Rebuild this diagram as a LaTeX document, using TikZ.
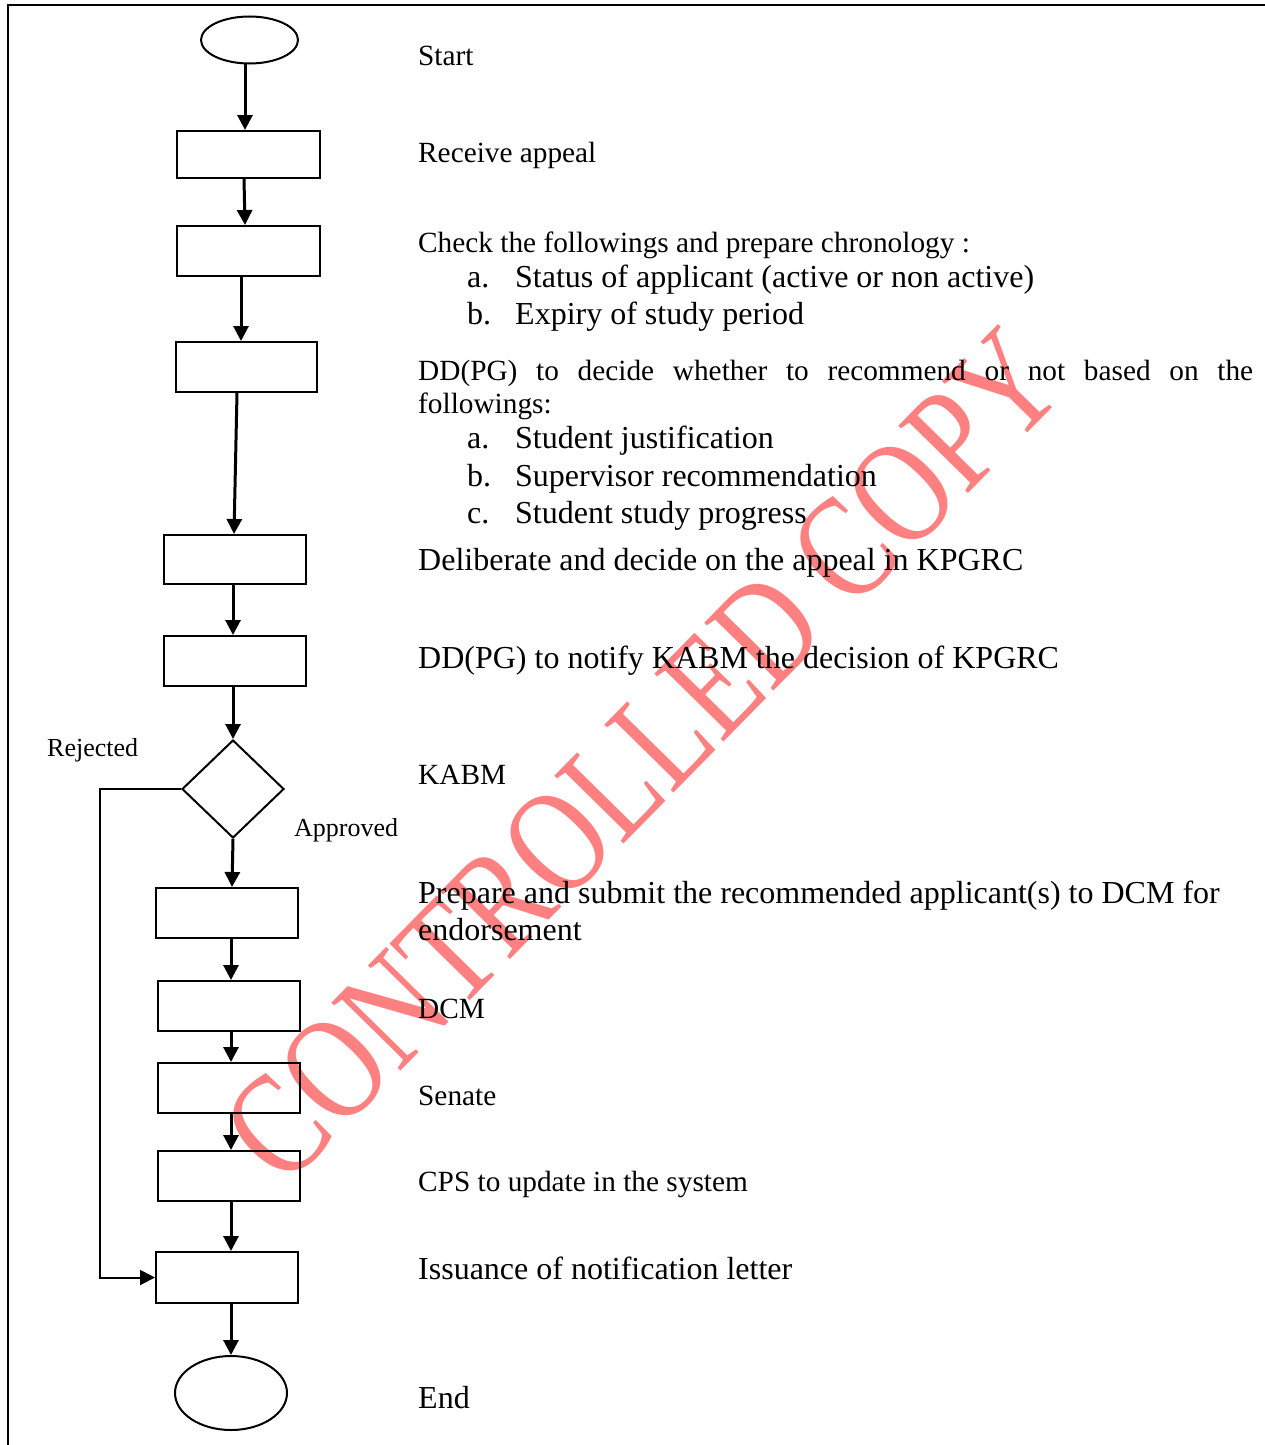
\documentclass[tikz,border=0pt]{standalone}
\usepackage{fontspec}
\setmainfont{Liberation Serif}
\usetikzlibrary{shapes.geometric,arrows.meta}
\definecolor{wm}{HTML}{FF8080}
\newcommand\fsm{\fontsize{29.3}{35}\selectfont}
\newcommand\flg{\fontsize{32}{37}\selectfont}
\newcommand\flb{\fontsize{26}{31}\selectfont}
\tikzset{
  boxstep/.style={draw, rectangle, line width=2pt, minimum width=142pt, minimum height=50pt, inner sep=0pt},
  term/.style={draw, ellipse, line width=2pt, inner sep=0pt},
  decide/.style={draw, diamond, line width=2pt, inner sep=0pt, minimum width=102pt, minimum height=98pt},
  arr/.style={line width=3pt, -{Triangle[length=15pt,width=15pt]}},
  rej/.style={line width=2pt, -{Triangle[length=15pt,width=15pt]}},
  txt/.style={anchor=base west, inner sep=0pt, font=\fsm},
  txtl/.style={anchor=base west, inner sep=0pt, font=\flg},
  lab/.style={anchor=base west, inner sep=0pt, font=\flb}
}
\begin{document}
\begin{tikzpicture}[x=1pt,y=-1pt]
\useasboundingbox (0,0) rectangle (1265,1445);
% frame
\draw[line width=2pt] (8,1445) -- (8,5) -- (1265,5);
% watermark
\node[text=wm, inner sep=0pt, rotate=45.5, xscale=0.79, font=\fontsize{148}{148}\selectfont] (wmk) at (643,756) {CONTROLLED COPY};
% shapes
\node[term, minimum width=97pt, minimum height=47pt] (start) at (249.5,40) {};
\node[boxstep, minimum width=143pt, minimum height=47pt] (b1) at (248.5,154.5) {};
\node[boxstep, minimum width=143pt] (b2) at (248.5,251) {};
\node[boxstep, minimum width=141pt] (b3) at (246.5,367) {};
\node[boxstep, minimum height=49pt] (b4) at (235,559.5) {};
\node[boxstep] (b5) at (235,661) {};
\node[decide] (dia) at (233,789) {};
\node[boxstep] (b6) at (227,913) {};
\node[boxstep] (b7) at (229,1006) {};
\node[boxstep] (b8) at (229,1088) {};
\node[boxstep] (b9) at (229,1176) {};
\node[boxstep, minimum height=51pt] (b10) at (227,1277.5) {};
\node[term, minimum width=112pt, minimum height=74pt] (end) at (231,1393) {};
% connectors
\draw[arr] (245,0 |- start.south) -- (245,0 |- b1.north);
\draw[arr] (244,0 |- b1.south) -- (245,0 |- b2.north);
\draw[arr] (241,0 |- b2.south) -- (241,0 |- b3.north);
\draw[arr] (237,0 |- b3.south) -- (234,0 |- b4.north);
\draw[arr] (233,0 |- b4.south) -- (233,0 |- b5.north);
\draw[arr] (233,0 |- b5.south) -- (dia.north);
\draw[arr] (dia.south) -- (232,0 |- b6.north);
\draw[arr] (231,0 |- b6.south) -- (231,0 |- b7.north);
\draw[arr] (231,0 |- b7.south) -- (231,0 |- b8.north);
\draw[arr] (231,0 |- b8.south) -- (231,0 |- b9.north);
\draw[arr] (231,0 |- b9.south) -- (231,0 |- b10.north);
\draw[arr] (231,0 |- b10.south) -- (231,0 |- end.north);
\draw[rej] (dia.west) -- (100,0 |- dia.west) |- (b10.west);
% labels
\node[lab] (lrej) at (47,756) {Rejected};
\node[lab] (lapp) at (294,836) {Approved};
% texts
\node[txt] (t1) at (418,66) {Start};
\node[txt] (t2) at (418,162) {Receive appeal};
\node[txt] (t3) at (418,252) {Check the followings and prepare chronology :};
\node[txtl] (t3a) at (467,287) {a.};
\node[txtl] (t3at) at (515,287) {Status of applicant (active or non active)};
\node[txtl] (t3b) at (467,324) {b.};
\node[txtl] (t3bt) at (515,324) {Expiry of study period};
\node[txt] (t4) at (418,380) {\makebox[835pt][s]{DD(PG) to decide whether to recommend or not based on the}};
\node[txt] (t4b) at (418,413) {followings:};
\node[txtl] (t4a) at (467,448) {a.};
\node[txtl] (t4at) at (515,448) {Student justification};
\node[txtl] (t4bb) at (467,486) {b.};
\node[txtl] (t4bt) at (515,486) {Supervisor recommendation};
\node[txtl] (t4c) at (467,523) {c.};
\node[txtl] (t4ct) at (515,523) {Student study progress};
\node[txtl] (t5) at (418,570) {Deliberate and decide on the appeal in KPGRC};
\node[txtl] (t6) at (418,668) {DD(PG) to notify KABM the decision of KPGRC};
\node[txt] (t7) at (418,784) {KABM};
\node[txtl] (t8) at (418,903) {Prepare and submit the recommended applicant(s) to DCM for};
\node[txtl] (t8b) at (418,940) {endorsement};
\node[txt] (t9) at (418,1018) {DCM};
\node[txt] (t10) at (418,1105) {Senate};
\node[txt] (t11) at (418,1191) {CPS to update in the system};
\node[txtl] (t12) at (418,1279) {Issuance of notification letter};
\node[txtl] (t13) at (418,1408) {End};
\end{tikzpicture}
\end{document}
